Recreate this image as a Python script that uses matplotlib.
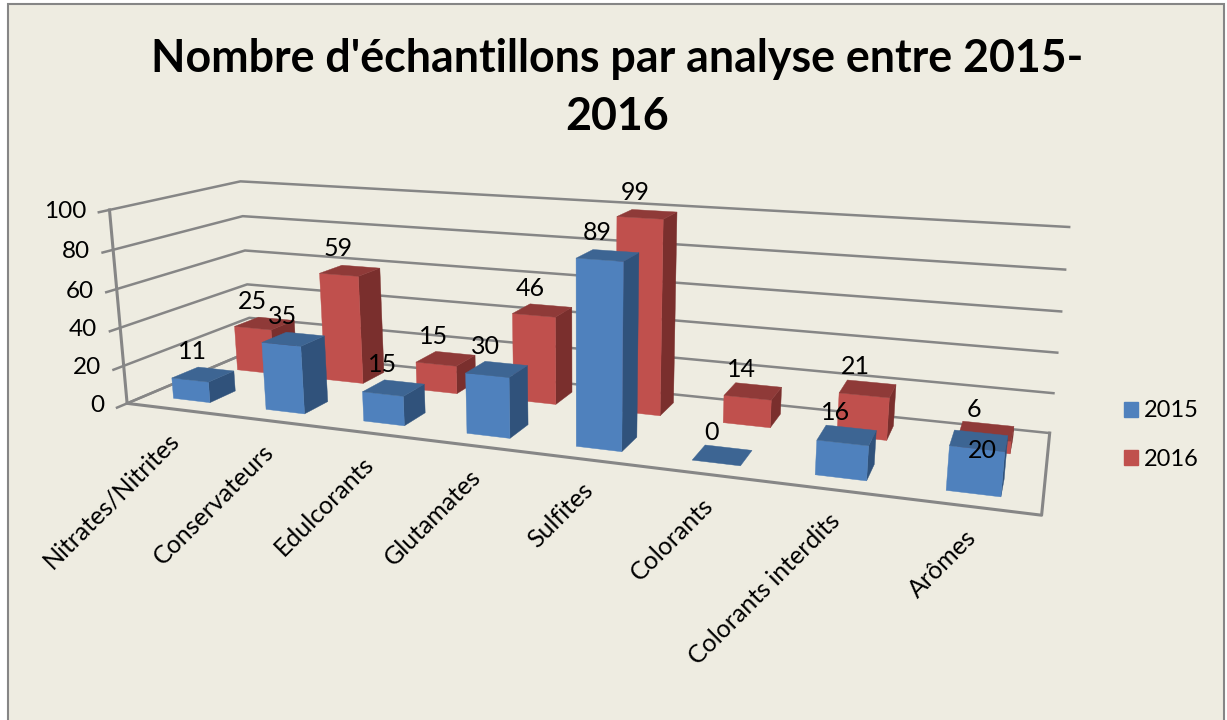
import numpy as np
import matplotlib
matplotlib.use("Agg")
import matplotlib.pyplot as plt
from matplotlib.patches import Polygon, Rectangle, Patch

plt.rcParams["font.family"] = ["Lato", "DejaVu Sans"]

title = "Nombre d'échantillons par analyse entre 2015-\n2016"
categories = ["Nitrates/Nitrites", "Conservateurs", "Edulcorants", "Glutamates",
              "Sulfites", "Colorants", "Colorants interdits", "Arômes"]
values_2015 = [11, 35, 15, 30, 89, 0, 16, 20]
values_2016 = [25, 59, 15, 46, 99, 14, 21, 6]
z_ticks = [0, 20, 40, 60, 80, 100]

BG = "#EEECE1"
GRID = "#868686"
BLUE = ("#4F81BD", "#3D6593", "#30527B")
RED = ("#C0504D", "#8F3A38", "#7A2F2D")

# box corners of the 3d chart: (category, depth, value) -> pixel, solved for the camera
anchors = [
    ((0, 0, 0), (126.7, 402.7)), ((0, 0, 50), (118.3, 308)), ((0, 0, 100), (110, 210.7)),
    ((0, 1, 0), (252, 352)), ((0, 1, 50), (246, 267)), ((0, 1, 100), (240, 181)),
    ((8, 1, 0), (1049.3, 432.3)), ((8, 1, 50), (1059.7, 332.5)), ((8, 1, 100), (1069, 227)),
    ((8, 0, 0), (1041.7, 515.7)),
]


def solve_camera(points):
    rows = []
    for (x, y, z), (u, v) in points:
        rows.append([x, y, z, 1, 0, 0, 0, 0, -u * x, -u * y, -u * z, -u])
        rows.append([0, 0, 0, 0, x, y, z, 1, -v * x, -v * y, -v * z, -v])
    return np.linalg.svd(np.array(rows, dtype=float))[2][-1].reshape(3, 4)


CAM = solve_camera(anchors)


def proj(x, y, z):
    p = CAM @ np.array([x, y, z, 1.0])
    return p[0] / p[2], p[1] / p[2]


def draw_bar(ax, cat, width, y0, y1, val, colors, zorder):
    x0, x1 = cat + 0.5 - width / 2, cat + 0.5 + width / 2
    front = [proj(x0, y0, 0), proj(x1, y0, 0), proj(x1, y0, val), proj(x0, y0, val)]
    side = [proj(x1, y0, 0), proj(x1, y1, 0), proj(x1, y1, val), proj(x1, y0, val)]
    top = [proj(x0, y0, val), proj(x1, y0, val), proj(x1, y1, val), proj(x0, y1, val)]
    faces = [(top, colors[1])] if val == 0 else [(side, colors[2]), (front, colors[0]), (top, colors[1])]
    for pts, col in faces:
        ax.add_patch(Polygon(pts, closed=True, fc=col, ec=col, lw=0.3, zorder=zorder))


BAR_W_FRONT = 0.40
BAR_W_BACK = 0.42
DEPTH_FRONT = (0.14, 0.34)
DEPTH_BACK = (0.66, 0.87)

fig = plt.figure(figsize=(12.27, 7.2), dpi=100, facecolor="white")
ax = fig.add_axes([0, 0, 1, 1])
ax.set_xlim(0, 1227)
ax.set_ylim(720, 0)
ax.axis("off")

ax.add_patch(Rectangle((8, 4), 1216, 740, fc=BG, ec=GRID, lw=1.5, zorder=0))
ax.text(617, 88, title, ha="center", va="center", fontsize=32.2, fontweight="bold",
        color="black", linespacing=1.45)

# walls
for z in z_ticks:
    line = [proj(0, -0.07, z), proj(0, 1, z), proj(8, 1, z)]
    ax.plot(*zip(*line), color=GRID, lw=1.8, zorder=1)
    tx, ty = proj(0, 0, z)
    ax.text(tx - 23, ty + 2, str(z), ha="right", va="center", fontsize=17.5, color="black")
floor = [proj(0, 0, 100), proj(0, 0, 0), proj(8, 0, 0), proj(8, 1, 0)]
ax.plot(*zip(*floor), color=GRID, lw=2.2, zorder=1)
ax.plot(*zip(proj(0, 0, 0), proj(0, 1, 0)), color=GRID, lw=1.8, zorder=1)

# back series first, so the front one covers it
for i, v in enumerate(values_2016):
    draw_bar(ax, i, BAR_W_BACK, DEPTH_BACK[0], DEPTH_BACK[1], v, RED, 2)
for i, v in enumerate(values_2015):
    draw_bar(ax, i, BAR_W_FRONT, DEPTH_FRONT[0], DEPTH_FRONT[1], v, BLUE, 3)

# data labels sit on the bar tops; Excel moved the Arômes 2015 one down
label_shift = {(7, 0): (14, 33)}
series_offset = [(-11, -23), (-12, -22)]
for s, (vals, depth) in enumerate([(values_2015, DEPTH_FRONT), (values_2016, DEPTH_BACK)]):
    for i, v in enumerate(vals):
        lx, ly = proj(i + 0.5, sum(depth) / 2, v)
        dx, dy = label_shift.get((i, s), (0, 0))
        ax.text(lx + series_offset[s][0] + dx, ly + series_offset[s][1] + dy, str(v),
                ha="center", va="center", fontsize=18, color="black", zorder=5)

# category labels, rotated and ending under each category
for i, name in enumerate(categories):
    lx, ly = proj(i + 0.5, 0, 0)
    ax.text(lx - 6, ly + 19, name, ha="right", va="top", rotation=45, rotation_mode="anchor",
            fontsize=18, color="black")

handles = [Patch(fc=BLUE[0], ec=BLUE[0], label="2015"), Patch(fc=RED[0], ec=RED[0], label="2016")]
ax.legend(handles=handles, loc="center left", bbox_to_anchor=(1117, 435), bbox_transform=ax.transData,
          frameon=False, fontsize=17, handlelength=0.6, handleheight=0.6,
          handletextpad=0.25, labelspacing=1.15, borderpad=0.3, borderaxespad=0)

fig.savefig("out.png", dpi=100, facecolor=fig.get_facecolor())
